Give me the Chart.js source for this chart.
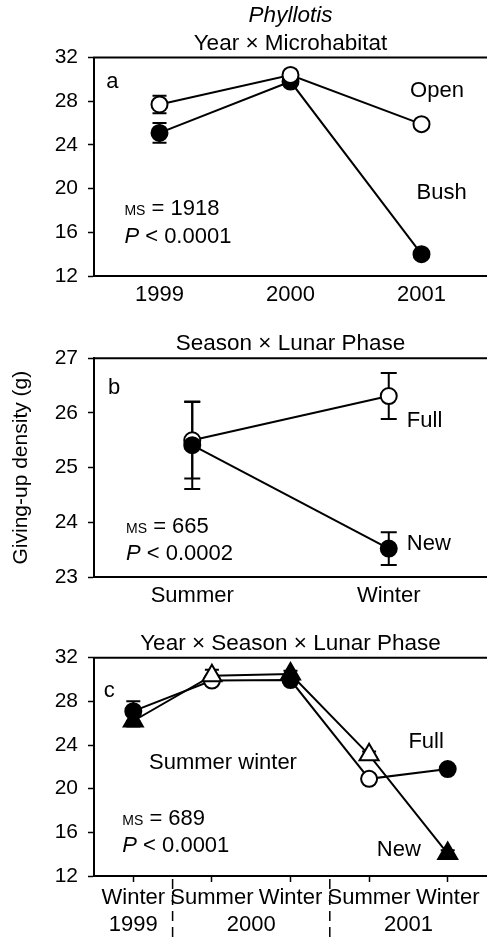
<!DOCTYPE html>
<html>
<head>
<meta charset="utf-8">
<script src="https://cdn.jsdelivr.net/npm/chart.js@4.4.1/dist/chart.umd.min.js"></script>
<style>
  html, body { margin: 0; padding: 0; background: #fff; overflow: hidden; }
  #wrap { position: relative; width: 487px; height: 939px; }
  canvas { position: absolute; left: 0; }
</style>
</head>
<body>
<div id="wrap">
  <canvas id="chartA" width="487" height="310" style="top:0px"></canvas>
  <canvas id="chartB" width="487" height="300" style="top:310px"></canvas>
  <canvas id="chartC" width="487" height="329" style="top:610px"></canvas>
</div>
<script>
// a: year x microhabitat
const years = ["1999", "2000", "2001"];
const openGud = [27.7, 30.4, 25.9];
const openErr = [0.8, 0.3, 0.2];
const bushGud = [25.1, 29.8, 14.0];
const bushErr = [0.9, 0.2, 0.2];

// b: season x lunar phase
const seasons = ["Summer", "Winter"];
const fullGud = [25.5, 26.31];
const fullErr = [0.7, 0.42];
const newGud = [25.41, 23.52];
const newErr = [0.8, 0.3];

// c: year x season x lunar phase
const periods = ["Winter", "Summer", "Winter", "Summer", "Winter"];
const periodYears = ["1999", "2000", "2001"];
const yearCentres = [0, 1.5, 3.5];
const yearBreaks = [0.5, 2.5];
const fullYsl = [27.1, 29.9, 29.95, 20.9, 21.8];
const fullYslErr = [0.9, 0.2, 0.2, 0.2, 0.2];
const newYsl = [26.2, 30.35, 30.5, 23.1, 14.05];
const newYslErr = [0.5, 0.55, 0.3, 0.3, 0.3];

const FAMILY = "'Liberation Sans', Arial, Helvetica, sans-serif";
Chart.defaults.font.family = FAMILY;
Chart.defaults.color = "#000";

const F_MAIN = `22px ${FAMILY}`;
const F_SMALL = `14px ${FAMILY}`;
const F_ITAL = `italic 22px ${FAMILY}`;

function txt(t) { return [{ t, font: F_MAIN }]; }
function ms(v) { return [{ t: "MS", font: F_SMALL }, { t: " = " + v, font: F_MAIN }]; }
function pval(v) { return [{ t: "P", font: F_ITAL }, { t: " < " + v, font: F_MAIN }]; }

const errorBars = {
  id: "errorBars",
  beforeDatasetsDraw(chart) {
    const { ctx, scales: { x, y } } = chart;
    const w = chart.canvas.id === "chartB" ? 8 : 7;
    ctx.save();
    ctx.strokeStyle = "#000";
    ctx.lineWidth = 2;
    chart.data.datasets.forEach(ds => {
      if (!ds.errors) return;
      ds.data.forEach((v, i) => {
        const e = ds.errors[i];
        if (!e) return;
        const px = x.getPixelForValue(i);
        const top = y.getPixelForValue(v + e);
        const bot = y.getPixelForValue(v - e);
        ctx.beginPath();
        ctx.moveTo(px, top); ctx.lineTo(px, bot);
        ctx.moveTo(px - w, top); ctx.lineTo(px + w, top);
        ctx.moveTo(px - w, bot); ctx.lineTo(px + w, bot);
        ctx.stroke();
      });
    });
    ctx.restore();
  }
};

// frame top line, dashed year separators and the texts inside the plot
function makeNotes(items, breaks) {
  return {
    id: "notes",
    afterDraw(chart) {
      const { ctx, chartArea, scales: { x, y } } = chart;
      ctx.save();
      ctx.strokeStyle = "#000";
      ctx.lineWidth = 2;
      ctx.beginPath();
      ctx.moveTo(chartArea.left - 1, chartArea.top);
      ctx.lineTo(chart.width, chartArea.top);
      ctx.stroke();

      ctx.lineWidth = 1.5;
      ctx.setLineDash([10, 6]);
      (breaks || []).forEach(b => {
        const px = x.getPixelForValue(b);
        ctx.beginPath();
        ctx.moveTo(px, chartArea.bottom + 3);
        ctx.lineTo(px, chart.height);
        ctx.stroke();
      });
      ctx.setLineDash([]);

      ctx.fillStyle = "#000";
      ctx.textBaseline = "alphabetic";
      ctx.textAlign = "left";
      items.forEach(it => {
        let px = x.getPixelForValue(it.x);
        const py = y.getPixelForValue(it.y);
        if (it.align === "center") {
          let total = 0;
          it.parts.forEach(p => { ctx.font = p.font; total += ctx.measureText(p.t).width; });
          px -= total / 2;
        }
        it.parts.forEach(p => {
          ctx.font = p.font;
          ctx.fillText(p.t, px, py);
          px += ctx.measureText(p.t).width;
        });
      });
      ctx.restore();
    }
  };
}

function panelOptions(o) {
  const xFont = { family: FAMILY, size: 22 };
  const yFont = { family: FAMILY, size: 21 };
  const scales = {
    x: {
      type: "category",
      offset: true,
      weight: 0,
      grid: { display: o.xTicks, drawOnChartArea: false, drawTicks: o.xTicks, tickLength: 6, tickColor: "#000", tickWidth: 1.5 },
      border: { display: true, color: "#000", width: 2 },
      ticks: { font: xFont, color: "#000", padding: o.xPad, maxRotation: 0, autoSkip: false },
      afterFit: s => { s.height = o.xHeight; }
    },
    y: {
      min: o.yMin, max: o.yMax,
      ticks: { stepSize: o.yStep, font: yFont, color: "#000", padding: 10 },
      grid: { drawOnChartArea: false, tickLength: 6, tickColor: "#000", tickWidth: 1.5 },
      border: { display: true, color: "#000", width: 2 },
      title: o.yTitle
        ? { display: true, text: o.yTitle, font: { family: FAMILY, size: 21 }, color: "#000", padding: { top: 9, bottom: 0 } }
        : { display: false },
      afterFit: s => { s.width = 94; }
    }
  };
  if (o.yearAxis) scales.xYear = o.yearAxis;
  return {
    responsive: false,
    animation: false,
    layout: { padding: 0, autoPadding: false },
    plugins: {
      legend: { display: false },
      tooltip: { enabled: false },
      title: {
        display: true, text: o.title, fullSize: false, color: "#000",
        font: { family: FAMILY, size: 22.5, weight: "normal", style: o.titleItalic ? "italic" : "normal" },
        padding: o.titlePad
      },
      subtitle: {
        display: !!o.subtitle, text: o.subtitle || "", fullSize: false, color: "#000",
        font: { family: FAMILY, size: 22.5, weight: "normal" },
        padding: o.subPad || 0
      }
    },
    scales
  };
}

function series(label, data, errors, fill, style, radius) {
  return {
    label, data, errors,
    borderColor: "#000", borderWidth: 2,
    pointStyle: style || "circle",
    pointRadius: radius || 8,
    pointBackgroundColor: fill, pointBorderColor: "#000", pointBorderWidth: 2,
    tension: 0,
    clip: false
  };
}

// panel a
new Chart(document.getElementById("chartA"), {
  type: "line",
  data: {
    labels: years,
    datasets: [
      series("Open", openGud, openErr, "#fff"),
      series("Bush", bushGud, bushErr, "#000")
    ]
  },
  options: panelOptions({
    title: "Phyllotis", titleItalic: true, titlePad: { top: 2, bottom: 0 },
    subtitle: "Year \u00d7 Microhabitat", subPad: { top: 1.5, bottom: 0 },
    yMin: 12, yMax: 32, yStep: 4, xTicks: false, xPad: 6, xHeight: 34
  }),
  plugins: [errorBars, makeNotes([
    { x: -0.36, y: 29.2, parts: txt("a"), align: "center" },
    { x: 1.913, y: 28.35, parts: txt("Open") },
    { x: 1.962, y: 19.03, parts: txt("Bush") },
    { x: -0.268, y: 17.57, parts: ms("1918") },
    { x: -0.268, y: 15.04, parts: pval("0.0001") }
  ])]
});

// panel b
new Chart(document.getElementById("chartB"), {
  type: "line",
  data: {
    labels: seasons,
    datasets: [
      series("New", newGud, newErr, "#000"),
      series("Full", fullGud, fullErr, "#fff")
    ]
  },
  options: panelOptions({
    title: "Season \u00d7 Lunar Phase", titlePad: { top: 20.5, bottom: 0.8 },
    yMin: 23, yMax: 27, yStep: 1, xTicks: false, xPad: 6, xHeight: 33,
    yTitle: "Giving-up density (g)"
  }),
  plugins: [errorBars, makeNotes([
    { x: -0.397, y: 26.34, parts: txt("b"), align: "center" },
    { x: 1.092, y: 25.74, parts: txt("Full") },
    { x: 1.092, y: 23.5, parts: txt("New") },
    { x: -0.337, y: 23.81, parts: ms("665") },
    { x: -0.337, y: 23.31, parts: pval("0.0002") }
  ])]
});

// panel c
const seasonFill = periods.map(p => (p === "Summer" ? "#fff" : "#000"));
new Chart(document.getElementById("chartC"), {
  type: "line",
  data: {
    labels: periods,
    datasets: [
      series("New", newYsl, newYslErr, seasonFill, "triangle", 11),
      series("Full", fullYsl, fullYslErr, seasonFill, "circle", 8)
    ]
  },
  options: panelOptions({
    title: "Year \u00d7 Season \u00d7 Lunar Phase", titlePad: { top: 19.8, bottom: 0.9 },
    yMin: 12, yMax: 32, yStep: 4, xTicks: true, xPad: 3, xHeight: 34,
    yearAxis: {
      type: "linear", position: "bottom", weight: 1,
      min: -0.5, max: 4.5,
      grid: { display: false, drawTicks: false },
      border: { display: false },
      ticks: {
        font: { family: FAMILY, size: 22 }, color: "#000", padding: 2, autoSkip: false, maxRotation: 0,
        callback: (v, i) => periodYears[i]
      },
      afterBuildTicks: s => { s.ticks = yearCentres.map(v => ({ value: v })); },
      afterFit: s => { s.height = 29; }
    }
  }),
  plugins: [errorBars, makeNotes([
    { x: -0.305, y: 28.37, parts: txt("c"), align: "center" },
    { x: 0.2, y: 21.76, parts: txt("Summer winter") },
    { x: 3.5, y: 23.69, parts: txt("Full") },
    { x: 3.098, y: 13.81, parts: txt("New") },
    { x: -0.14, y: 16.71, parts: ms("689") },
    { x: -0.14, y: 14.2, parts: pval("0.0001") }
  ], yearBreaks)]
});
</script>
</body>
</html>
